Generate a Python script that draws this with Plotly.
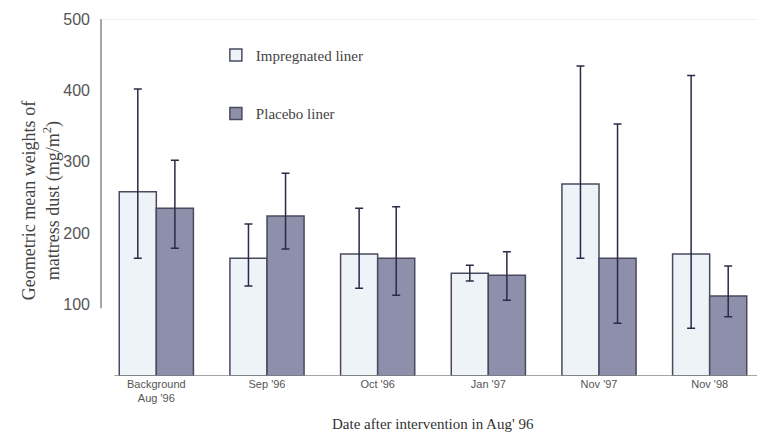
import plotly.graph_objects as go

categories = ["Background<br>Aug '96", "Sep '96", "Oct '96", "Jan '97", "Nov '97", "Nov '98"]
impregnated = [258, 165, 171, 144, 269, 171]
impregnated_upper = [402, 213, 235, 155, 434, 421]
impregnated_lower = [165, 126, 123, 133, 165, 67]
placebo = [235, 224, 165, 141, 165, 112]
placebo_upper = [302, 284, 237, 174, 353, 154]
placebo_lower = [179, 178, 113, 106, 74, 83]
y_ticks = [100, 200, 300, 400, 500]

err_color = "#2b2b48"

fig = go.Figure()
fig.add_trace(go.Bar(
    x=categories, y=impregnated, name="Impregnated liner", legendgroup="a",
    marker=dict(color="#eef3f8", line=dict(color="#4a4a5e", width=1.5)),
    error_y=dict(type="data", symmetric=False,
                 array=[u - v for u, v in zip(impregnated_upper, impregnated)],
                 arrayminus=[v - l for v, l in zip(impregnated, impregnated_lower)],
                 color=err_color, thickness=1.5, width=4),
))
fig.add_trace(go.Bar(
    x=categories, y=placebo, name="Placebo liner", legendgroup="b",
    marker=dict(color="#8e8fab", line=dict(color="#4a4a5e", width=1.5)),
    error_y=dict(type="data", symmetric=False,
                 array=[u - v for u, v in zip(placebo_upper, placebo)],
                 arrayminus=[v - l for v, l in zip(placebo, placebo_lower)],
                 color=err_color, thickness=1.5, width=4),
))

fig.update_layout(
    width=757, height=426,
    margin=dict(l=93, r=0, t=11, b=58, autoexpand=False),
    paper_bgcolor="white", plot_bgcolor="white",
    barmode="group", bargap=0.33, bargroupgap=0,
    showlegend=True,
    legend=dict(x=0.173, y=0.945, xanchor="left", yanchor="top",
                traceorder="grouped", tracegroupgap=36,
                font=dict(family="Liberation Serif", size=15, color="#444"),
                bgcolor="rgba(0,0,0,0)", itemwidth=30),
    xaxis=dict(showline=False, ticks="", range=[-0.5, 5.5], automargin=False,
               tickfont=dict(family="Liberation Sans", size=11, color="#555")),
    yaxis=dict(range=[0, 500], tickvals=y_ticks, showgrid=False, zeroline=False,
               showline=False, ticks="", ticklabelstandoff=10, automargin=False,
               tickfont=dict(family="Liberation Sans", size=16, color="#555")),
    font=dict(family="Liberation Serif"),
)

# y axis line (only drawn from ~100 to 500 in the original)
fig.add_shape(type="line", xref="paper", yref="y", x0=0, x1=0, y0=95, y1=500,
              line=dict(color="#888", width=1.5))
# top frame line
fig.add_shape(type="line", xref="paper", yref="y", x0=0, x1=0.99, y0=500, y1=500,
              line=dict(color="#ddd", width=1))
# right frame line
fig.add_shape(type="line", xref="paper", yref="y", x0=0.99, x1=0.99, y0=0, y1=500,
              line=dict(color="#eee", width=1))
# baseline
fig.add_shape(type="line", xref="paper", yref="y", x0=0.02, x1=0.99, y0=0, y1=0,
              line=dict(color="#888", width=1.5))

fig.add_annotation(
    text="Geometric mean weights of<br>mattress dust (mg/m<sup>2</sup>)",
    xref="paper", yref="paper", x=-0.09, y=0.49, xanchor="center", yanchor="middle",
    textangle=-90, showarrow=False,
    font=dict(family="Liberation Serif", size=18, color="#444"),
)
fig.add_annotation(
    text="Date after intervention in Aug' 96",
    xref="paper", yref="paper", x=0.5, y=-0.134, xanchor="center", yanchor="middle",
    showarrow=False,
    font=dict(family="Liberation Serif", size=15, color="#333"),
)

fig.write_html("out.html")
